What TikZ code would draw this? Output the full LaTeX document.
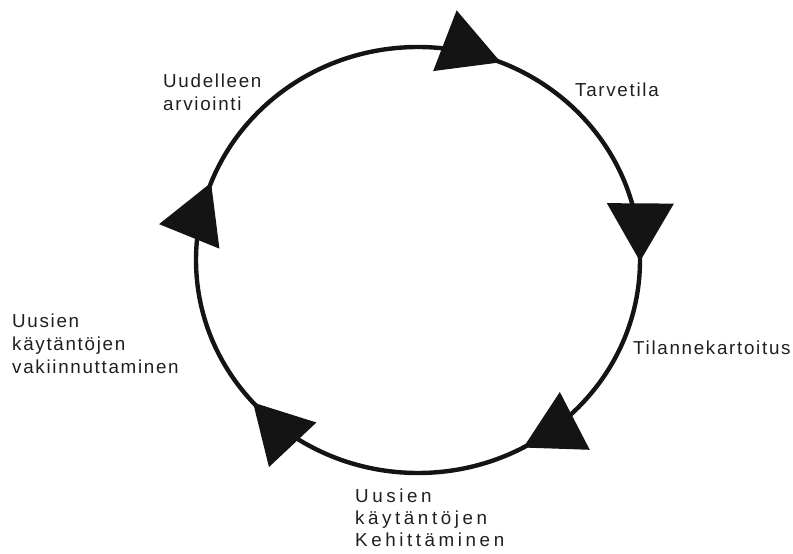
\documentclass[tikz,border=0pt]{standalone}
\usepackage{fontspec}
\setmainfont{Liberation Sans}
\usetikzlibrary{arrows.meta,decorations.markings}
\colorlet{CycleInk}{black!92}
\colorlet{LabelInk}{black!88}

\begin{document}
\begin{tikzpicture}[
    x=1pt,y=1pt,
    phase/.style={anchor=north west,inner sep=0pt,align=left,text=LabelInk,
      font=\fontsize{18.8}{23}\selectfont\addfontfeature{LetterSpace=9}},
    widephase/.style={phase,font=\fontsize{18.8}{22}\selectfont\addfontfeature{LetterSpace=19}},
    cycle/.style={line width=4.4pt,CycleInk,postaction={decorate}}
  ]
    \useasboundingbox (0,0) rectangle (793,554);
    % kierros myötäpäivään
    \draw[cycle,decoration={markings,
        mark=at position 0.062 with {\arrow{Triangle[length=60pt,width=64pt]}},
        mark=at position 0.251 with {\arrow{Triangle[length=58pt,width=66pt]}},
        mark=at position 0.420 with {\arrow{Triangle[length=58pt,width=64pt]}},
        mark=at position 0.635 with {\arrow{Triangle[length=58pt,width=64pt]}},
        mark=at position 0.808 with {\arrow{Triangle[length=58pt,width=64pt]}}}]
      (418,507) arc[start angle=90,end angle=-270,x radius=222,y radius=213];
    \node[phase] (tarve) at (575,471) {Tarvetila};
    \node[phase] (kartoitus) at (633,213) {Tilannekartoitus};
    \node[widephase] (kehitys) at (355,65) {Uusien\\käytäntöjen\\Kehittäminen};
    \node[phase] (vakiinnutus) at (12,240) {Uusien\\käytäntöjen\\vakiinnuttaminen};
    \node[phase] (arviointi) at (163,480) {Uudelleen\\arviointi};
  \end{tikzpicture}
\end{document}
